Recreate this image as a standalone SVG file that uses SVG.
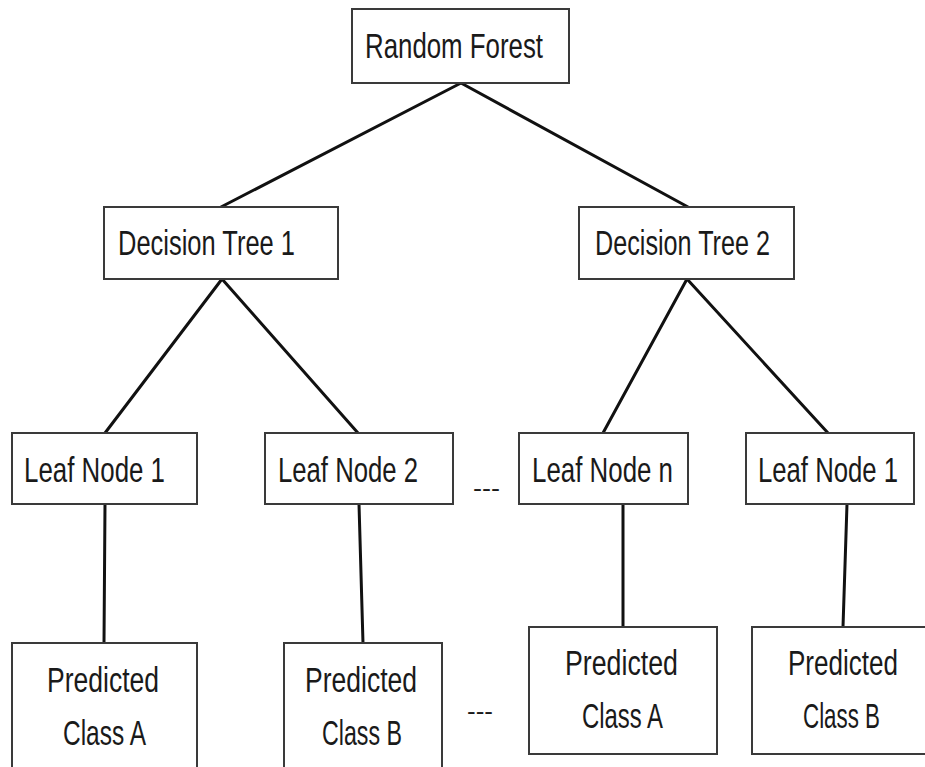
<svg xmlns="http://www.w3.org/2000/svg" width="925" height="767" viewBox="0 0 925 767">
  <style>
    .box { fill: #ffffff; stroke: #3a3a3a; stroke-width: 2; }
    .edge { stroke: #111111; stroke-width: 3; fill: none; stroke-linecap: round; }
    .lbl { font-family: "Liberation Sans", Arial, sans-serif; font-size: 35px; fill: #1a1a1a; }
  </style>
  <rect width="925" height="767" fill="#ffffff"/>

  <g id="connectors">
    <line class="edge" x1="461" y1="83" x2="221" y2="207"/>
    <line class="edge" x1="461" y1="83" x2="688" y2="207"/>
    <line class="edge" x1="222" y1="279" x2="105" y2="433"/>
    <line class="edge" x1="222" y1="279" x2="358" y2="433"/>
    <line class="edge" x1="687" y1="279" x2="603" y2="433"/>
    <line class="edge" x1="687" y1="279" x2="828" y2="433"/>
    <line class="edge" x1="105" y1="504" x2="104" y2="643"/>
    <line class="edge" x1="359" y1="504" x2="363" y2="643"/>
    <line class="edge" x1="623" y1="504" x2="623" y2="627"/>
    <line class="edge" x1="847" y1="504" x2="843" y2="627"/>
  </g>

  <g id="random-forest">
    <rect class="box" x="352" y="9" width="217" height="74"/>
    <text class="lbl" x="365" y="58" textLength="178" lengthAdjust="spacingAndGlyphs">Random Forest</text>
  </g>

  <g id="decision-tree-1">
    <rect class="box" x="104" y="207" width="234" height="72"/>
    <text class="lbl" x="118" y="255" textLength="177" lengthAdjust="spacingAndGlyphs">Decision Tree 1</text>
  </g>

  <g id="decision-tree-2">
    <rect class="box" x="579" y="207" width="215" height="72"/>
    <text class="lbl" x="595" y="255" textLength="175" lengthAdjust="spacingAndGlyphs">Decision Tree 2</text>
  </g>

  <g id="leaf-node-1-a">
    <rect class="box" x="12" y="433" width="185" height="71"/>
    <text class="lbl" x="24" y="482" textLength="141" lengthAdjust="spacingAndGlyphs">Leaf Node 1</text>
  </g>

  <g id="leaf-node-2">
    <rect class="box" x="265" y="433" width="188" height="71"/>
    <text class="lbl" x="278" y="482" textLength="140" lengthAdjust="spacingAndGlyphs">Leaf Node 2</text>
  </g>

  <g id="leaf-node-n">
    <rect class="box" x="519" y="433" width="169" height="71"/>
    <text class="lbl" x="532" y="482" textLength="141" lengthAdjust="spacingAndGlyphs">Leaf Node n</text>
  </g>

  <g id="leaf-node-1-b">
    <rect class="box" x="746" y="433" width="168" height="71"/>
    <text class="lbl" x="758" y="482" textLength="140" lengthAdjust="spacingAndGlyphs">Leaf Node 1</text>
  </g>

  <g id="ellipsis-leaves">
    <text class="lbl" x="473" y="496" textLength="27" lengthAdjust="spacingAndGlyphs" style="font-size:24px">---</text>
  </g>

  <g id="predicted-a-1">
    <rect class="box" x="12" y="643" width="185" height="140"/>
    <text class="lbl" x="47" y="692" textLength="112" lengthAdjust="spacingAndGlyphs">Predicted</text>
    <text class="lbl" x="63" y="745" textLength="83" lengthAdjust="spacingAndGlyphs">Class A</text>
  </g>

  <g id="predicted-b-1">
    <rect class="box" x="284" y="643" width="158" height="140"/>
    <text class="lbl" x="305" y="692" textLength="112" lengthAdjust="spacingAndGlyphs">Predicted</text>
    <text class="lbl" x="322" y="745" textLength="80" lengthAdjust="spacingAndGlyphs">Class B</text>
  </g>

  <g id="ellipsis-predictions">
    <text class="lbl" x="467" y="719" textLength="26" lengthAdjust="spacingAndGlyphs" style="font-size:24px">---</text>
  </g>

  <g id="predicted-a-2">
    <rect class="box" x="529" y="627" width="188" height="127"/>
    <text class="lbl" x="565" y="675" textLength="113" lengthAdjust="spacingAndGlyphs">Predicted</text>
    <text class="lbl" x="582" y="728" textLength="81" lengthAdjust="spacingAndGlyphs">Class A</text>
  </g>

  <g id="predicted-b-2">
    <rect class="box" x="752" y="627" width="180" height="127"/>
    <text class="lbl" x="788" y="675" textLength="110" lengthAdjust="spacingAndGlyphs">Predicted</text>
    <text class="lbl" x="803" y="728" textLength="77" lengthAdjust="spacingAndGlyphs">Class B</text>
  </g>
</svg>
